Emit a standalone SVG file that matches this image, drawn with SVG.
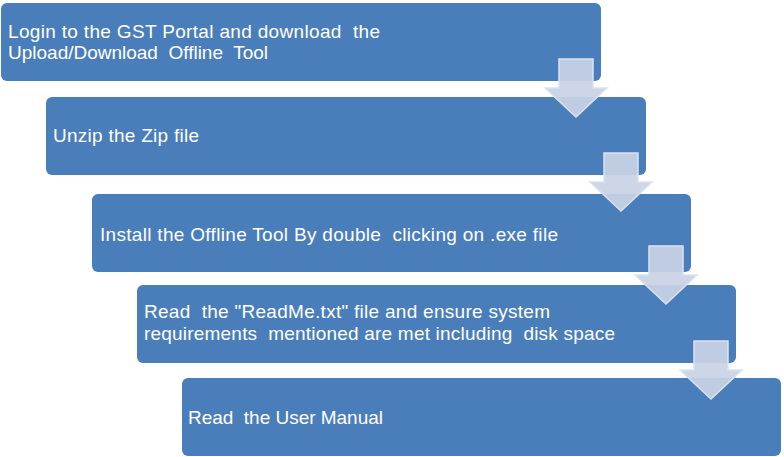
<svg xmlns="http://www.w3.org/2000/svg" width="784" height="457" viewBox="0 0 784 457">
<style>
.box{fill:#4a7ebb;}
.t{font-family:"Liberation Sans",Arial,sans-serif;font-size:19px;fill:#ffffff;white-space:pre;}
.arr{fill:#c9d3e4;fill-opacity:0.92;stroke:#dce2ee;stroke-width:1.5;stroke-linejoin:miter;}
</style>
<rect width="784" height="457" fill="#ffffff"/>
<g id="node1"><rect class="box" x="1" y="3" width="600" height="78" rx="6"/>
<text class="t" x="8" y="38" textLength="372" lengthAdjust="spacing" xml:space="preserve">Login to the GST Portal and download  the</text>
<text class="t" x="8" y="59" textLength="260" lengthAdjust="spacing" xml:space="preserve">Upload/Download  Offline  Tool</text></g>
<g id="node2"><rect class="box" x="46" y="97" width="600" height="78" rx="6"/>
<text class="t" x="53" y="142" textLength="146" lengthAdjust="spacing">Unzip the Zip file</text></g>
<g id="node3"><rect class="box" x="92" y="194" width="599" height="78" rx="6"/>
<text class="t" x="100" y="241" textLength="458" lengthAdjust="spacing" xml:space="preserve">Install the Offline Tool By double  clicking on .exe file</text></g>
<g id="node4"><rect class="box" x="137" y="285" width="599" height="78" rx="6"/>
<text class="t" x="144" y="318" textLength="406" lengthAdjust="spacing" xml:space="preserve">Read  the "ReadMe.txt" file and ensure system</text>
<text class="t" x="144" y="340" textLength="471" lengthAdjust="spacing" xml:space="preserve">requirements  mentioned are met including  disk space</text></g>
<g id="node5"><rect class="box" x="182" y="378" width="599" height="78" rx="6"/>
<text class="t" x="188" y="424" textLength="195" lengthAdjust="spacing" xml:space="preserve">Read  the User Manual</text></g>
<g id="connectors">
<path class="arr" d="M559,59 H593 V88 H607 L576,117 L545,88 H559 Z"/>
<path class="arr" d="M604,153 H638 V182 H652 L621,211 L590,182 H604 Z"/>
<path class="arr" d="M649,246 H683 V275 H697 L666,304 L635,275 H649 Z"/>
<path class="arr" d="M694,341 H728 V370 H742 L711,399 L680,370 H694 Z"/>
</g>
</svg>
